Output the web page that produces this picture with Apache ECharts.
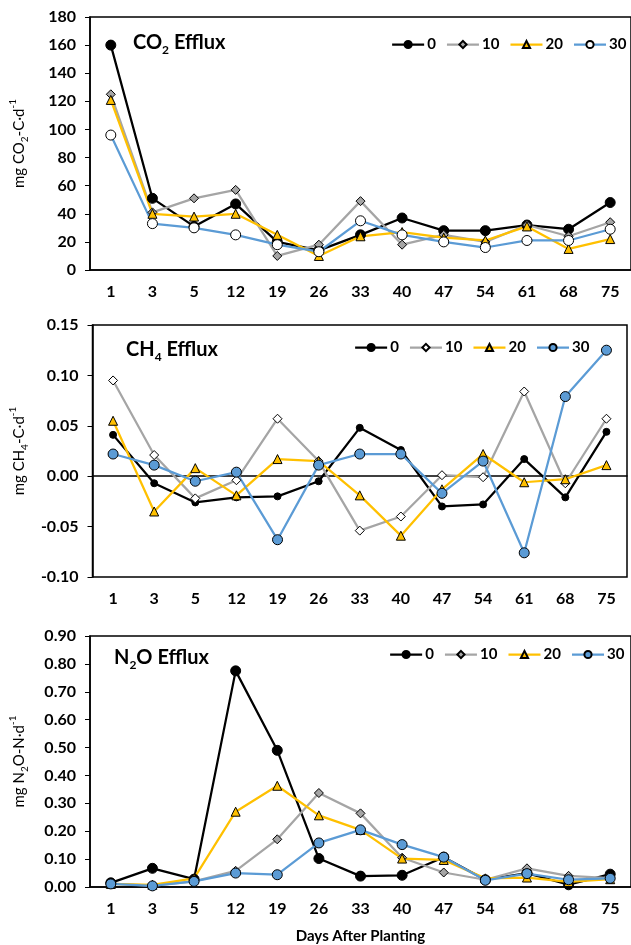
<!DOCTYPE html>
<html>
<head>
<meta charset="utf-8">
<script src="https://cdn.jsdelivr.net/npm/echarts@6/dist/echarts.min.js"></script>
<style>
  html, body { margin: 0; padding: 0; background: #fff; }
  #chart { width: 631px; height: 945px; }
</style>
</head>
<body>
<div id="chart"></div>
<script>
// days after planting (category axis)
const days = ['1', '3', '5', '12', '19', '26', '33', '40', '47', '54', '61', '68', '75'];
const rates = ['0', '10', '20', '30'];

// CO2 efflux, mg CO2-C/d
const co2_0 = [160, 51, 31, 47, 20, 14, 25, 37, 28, 28, 32, 29, 48];
const co2_10 = [125, 41, 51, 57, 10, 18, 49, 18, 25, 20, 32, 24, 34];
const co2_20 = [121, 40, 38, 40, 25, 10, 24, 27, 23, 21, 31, 15, 22];
const co2_30 = [96, 33, 30, 25, 18, 13, 35, 25, 20, 16, 21, 21, 29];

// CH4 efflux, mg CH4-C/d
const ch4_0 = [0.041, -0.007, -0.026, -0.021, -0.020, -0.005, 0.048, 0.026, -0.030, -0.028, 0.017, -0.021, 0.044];
const ch4_10 = [0.095, 0.021, -0.022, -0.004, 0.057, 0.015, -0.054, -0.040, 0.001, -0.001, 0.084, -0.007, 0.057];
const ch4_20 = [0.055, -0.035, 0.008, -0.019, 0.017, 0.015, -0.019, -0.059, -0.013, 0.022, -0.006, -0.003, 0.011];
const ch4_30 = [0.022, 0.011, -0.005, 0.004, -0.063, 0.011, 0.022, 0.022, -0.017, 0.015, -0.076, 0.079, 0.125];

// N2O efflux, mg N2O-N/d
const n2o_0 = [0.015, 0.067, 0.028, 0.775, 0.490, 0.102, 0.039, 0.042, 0.107, 0.026, 0.050, 0.008, 0.046];
const n2o_10 = [0.012, 0.005, 0.020, 0.058, 0.171, 0.337, 0.264, 0.105, 0.052, 0.026, 0.067, 0.040, 0.032];
const n2o_20 = [0.011, 0.008, 0.031, 0.270, 0.363, 0.257, 0.205, 0.102, 0.097, 0.031, 0.034, 0.018, 0.028];
const n2o_30 = [0.011, 0.004, 0.020, 0.050, 0.044, 0.158, 0.205, 0.152, 0.107, 0.024, 0.048, 0.026, 0.031];

const FONT = 'Lato, "Open Sans", sans-serif';
const lineCols = ['#000000', '#a5a5a5', '#ffc000', '#5b9bd5'];
const symbols = ['circle', 'diamond', 'triangle', 'circle'];

const chart = echarts.init(document.getElementById('chart'));

// panel layout
const grids = [
    { left: 80, top: 17, width: 557, height: 253 },
    { left: 82, top: 325, width: 545, height: 252 },
    { left: 81, top: 636, width: 550, height: 251 }
];

// marker fill + size per panel
const fills = [
    ['#000000', '#a5a5a5', '#ffc000', '#ffffff'],
    ['#000000', '#ffffff', '#ffc000', '#5b9bd5'],
    ['#000000', '#a5a5a5', '#ffc000', '#5b9bd5']
];
const sizes = [
    [10, 9, 9, 10],
    [7, 9, 9, 10],
    [10, 9, 9, 10]
];
const panelData = [
    [co2_0, co2_10, co2_20, co2_30],
    [ch4_0, ch4_10, ch4_20, ch4_30],
    [n2o_0, n2o_10, n2o_20, n2o_30]
];

// each panel gets its own series names (padded with spaces) so legends keep their own icons
const pad = (p) => ' '.repeat(p);

const series = [];
panelData.forEach((arr, p) => {
    arr.forEach((vals, i) => {
        series.push({
            name: rates[i] + pad(p),
            type: 'line',
            xAxisIndex: p,
            yAxisIndex: p,
            data: vals,
            symbol: symbols[i],
            symbolSize: sizes[p][i],
            showAllSymbol: true,
            lineStyle: { color: lineCols[i], width: 2.25 },
            itemStyle: { color: fills[p][i], borderColor: '#000', borderWidth: 1 },
            emphasis: { disabled: true },
            animation: false
        });
    });
});

const rich = (fs) => ({
    a: { fontSize: fs, fontWeight: 'bold', fontFamily: FONT, color: '#000', lineHeight: 26 },
    s: { fontSize: Math.round(fs * 0.62), fontWeight: 'bold', fontFamily: FONT, color: '#000', verticalAlign: 'bottom', lineHeight: 26 }
});
const nameRich = {
    a: { fontSize: 15, fontFamily: FONT, color: '#000', lineHeight: 22 },
    s: { fontSize: 10, fontFamily: FONT, color: '#000', verticalAlign: 'bottom', lineHeight: 22 },
    p: { fontSize: 10, fontFamily: FONT, color: '#000', verticalAlign: 'top', lineHeight: 22 }
};

const titles = [
    { text: '{a|CO}{s|2}{a| Efflux}', left: 133, top: 30 },
    { text: '{a|CH}{s|4}{a| Efflux}', left: 126, top: 337 },
    { text: '{a|N}{s|2}{a|O Efflux}', left: 114, top: 645 }
].map(t => Object.assign({ padding: 0, textStyle: { rich: rich(20) } }, t));

const legendPos = [
    { left: 391, top: 37 },
    { left: 354, top: 340 },
    { left: 389, top: 647 }
];
const legends = legendPos.map((pos, p) => Object.assign({
    data: rates.map(r => r + pad(p)),
    formatter: (n) => n.trim(),
    padding: 0,
    itemGap: 10,
    itemWidth: 32,
    itemHeight: 9,
    lineStyle: { width: 2.25 },
    textStyle: { fontSize: 15, fontWeight: 'bold', fontFamily: FONT, color: '#000', padding: [0, 0, 0, -2] }
}, pos));

const yNames = [
    '{a|mg CO}{s|2}{a|-C·d}{p|-1}',
    '{a|mg CH}{s|4}{a|-C·d}{p|-1}',
    '{a|mg N}{s|2}{a|O-N·d}{p|-1}'
];
const yRanges = [
    { min: 0, max: 180, interval: 20, fmt: (v) => v.toFixed(0) },
    { min: -0.10, max: 0.15, interval: 0.05, fmt: (v) => v.toFixed(2) },
    { min: 0, max: 0.90, interval: 0.10, fmt: (v) => v.toFixed(2) }
];

const xAxes = grids.map((g, p) => ({
    type: 'category',
    gridIndex: p,
    data: days,
    boundaryGap: true,
    axisLine: { onZero: true, lineStyle: { color: '#000', width: 1.5 } },
    axisTick: { alignWithLabel: true, length: 5, lineStyle: { color: '#000', width: 1 } },
    axisLabel: { margin: 14, fontSize: 16, fontWeight: 'bold', fontFamily: FONT, color: '#000' },
    name: p === 2 ? 'Days After Planting' : '',
    nameLocation: 'middle',
    nameGap: 42,
    nameTextStyle: { fontSize: 15, fontWeight: 'bold', fontFamily: FONT, color: '#000' }
}));
// the CH4 panel: tick labels sit under the box, not under the zero line
xAxes[1].axisLabel.show = false;
xAxes.push({
    type: 'category',
    gridIndex: 1,
    data: days,
    position: 'bottom',
    axisLine: { show: false, onZero: false },
    axisTick: { show: false },
    axisLabel: { margin: 14, fontSize: 16, fontWeight: 'bold', fontFamily: FONT, color: '#000' }
});

const yAxes = yRanges.map((r, p) => ({
    type: 'value',
    gridIndex: p,
    min: r.min,
    max: r.max,
    interval: r.interval,
    splitLine: { show: false },
    axisLine: { show: true, lineStyle: { color: '#000', width: 1.5 } },
    axisTick: { show: true, length: 5, lineStyle: { color: '#000' } },
    axisLabel: { margin: 14, fontSize: 16, fontWeight: 'bold', fontFamily: FONT, color: '#000', formatter: r.fmt },
    name: yNames[p],
    nameLocation: 'middle',
    nameRotate: 90,
    nameGap: 60,
    nameTextStyle: { rich: nameRich }
}));

chart.setOption({
    backgroundColor: '#ffffff',
    animation: false,
    title: titles,
    legend: legends,
    grid: grids.map(g => Object.assign({ show: true, borderColor: '#000', borderWidth: 1.5, containLabel: false }, g)),
    xAxis: xAxes,
    yAxis: yAxes,
    series: series
});
</script>
</body>
</html>
